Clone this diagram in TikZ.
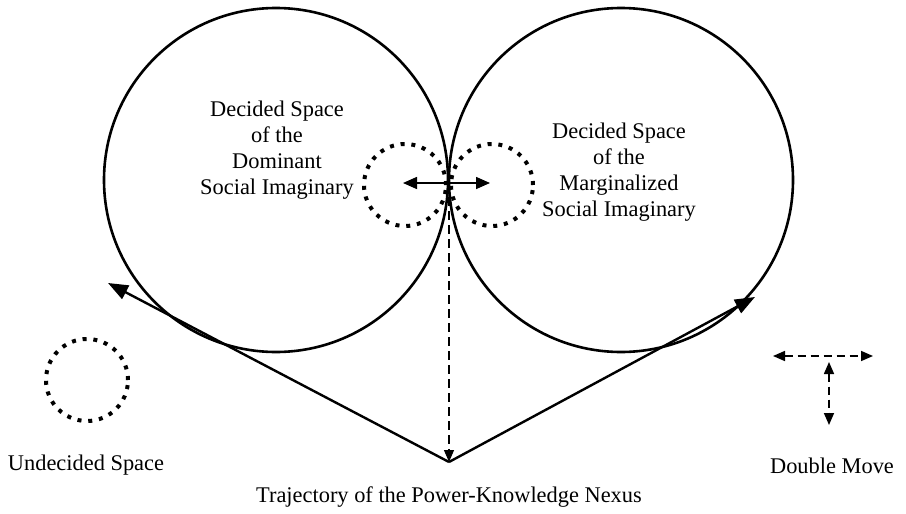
\documentclass[tikz,border=0pt]{standalone}
\usepackage{fontspec}
\setmainfont{Liberation Serif}
\usetikzlibrary{positioning,arrows.meta}
\tikzset{
  bigspace/.style   = {draw=black, circle, line width=1.3pt, minimum size=172pt, inner sep=0pt},
  undecided/.style  = {draw=black, circle, line width=2pt, dash pattern=on 2pt off 3.4pt, minimum size=41pt, inner sep=0pt},
  lbl/.style        = {font=\fontsize{11.2}{13}\selectfont, align=center, inner sep=0pt},
  traj/.style       = {-{Triangle[length=10pt,width=7.5pt]}, line width=1.2pt},
  push/.style       = {{Triangle[length=7pt,width=6pt]}-{Triangle[length=7pt,width=6pt]}, line width=0.8pt},
  move/.style       = {{Triangle[length=6pt,width=5pt]}-{Triangle[length=6pt,width=5pt]}, line width=0.8pt, dash pattern=on 4pt off 2.5pt},
  fall/.style       = {-{Triangle[length=6pt,width=5pt]}, line width=0.6pt, dash pattern=on 4.5pt off 2.5pt},
}
\begin{document}
\begin{tikzpicture}[x=0.5pt,y=-0.5pt]
  \useasboundingbox (0,0) rectangle (906,514);

  % the two decided spaces
  \node[bigspace] (dom) at (276,180) {};
  \node[bigspace] (mar) at (621,180) {};
  \node[lbl] (domlbl) at (277,150) {Decided Space\\of the\\Dominant\\Social Imaginary};
  \node[lbl] (marlbl) at (619,172) {Decided Space\\of the\\Marginalized\\Social Imaginary};

  % undecided spaces
  \node[undecided] (undl) at (405,185) {};
  \node[undecided] (undr) at (492,185) {};
  \node[undecided] (und) at (87,380) {};
  \node[lbl] (undlbl) at (86,465) {Undecided Space};

  \coordinate (pushl) at (403,183);
  \coordinate (pushr) at (490,183);
  \draw[push] (pushl) -- (pushr);

  % trajectory
  \coordinate (apex) at (449,462);
  \coordinate (domtip) at (108,283);
  \coordinate (martip) at (755,297);
  \coordinate (touch) at (449,197);
  \draw[traj] (apex) -- (domtip);
  \draw[traj] (apex) -- (martip);
  \draw[fall] (touch) -- (apex);
  \node[lbl] (trajlbl) at (449,497) {Trajectory of the Power-Knowledge Nexus};

  % double move
  \coordinate (mvl) at (773,356);
  \coordinate (mvr) at (873,356);
  \coordinate (mvt) at (829,362);
  \coordinate (mvb) at (829,425);
  \draw[move] (mvl) -- (mvr);
  \draw[move] (mvt) -- (mvb);
  \node[lbl] (mvlbl) at (832,466) {Double Move};
\end{tikzpicture}
\end{document}
